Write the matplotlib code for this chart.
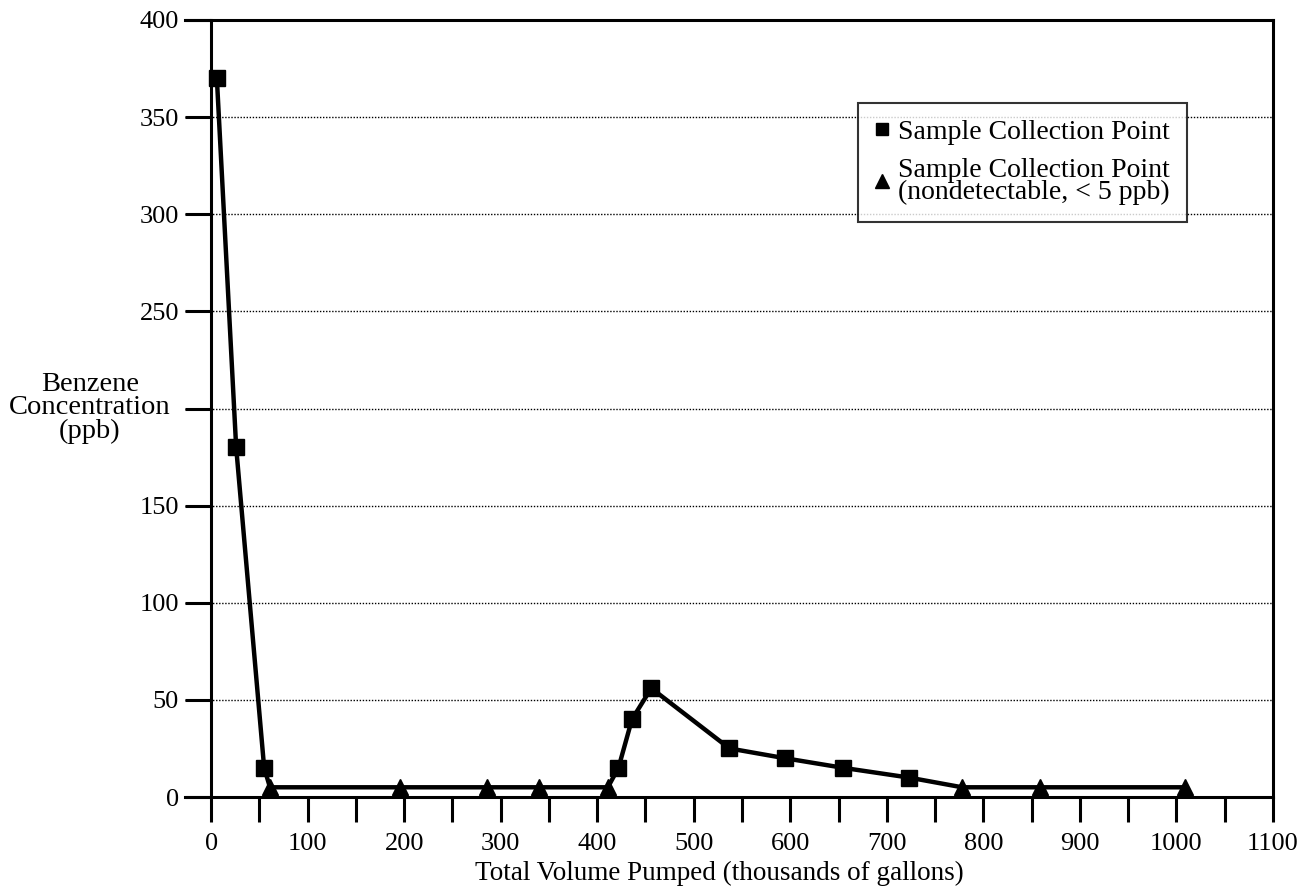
import numpy as np
import matplotlib
matplotlib.use("Agg")
from matplotlib import pyplot as plt
from matplotlib.lines import Line2D

plt.rcParams['font.family'] = ['Liberation Serif', 'DejaVu Serif']

# detected benzene samples (thousands of gallons, ppb)
det_vol = [6, 26, 55, 422, 436, 456, 537, 594, 655, 723]
det_ppb = [370, 180, 15, 15, 40, 56, 25, 20, 15, 10]

# nondetect samples plotted at the 5 ppb detection limit
nd_vol = [61, 196, 286, 340, 411, 778, 859, 1009]
nd_ppb = [5, 5, 5, 5, 5, 5, 5, 5]

x_ticks = [0, 100, 200, 300, 400, 500, 600, 700, 800, 900, 1000, 1100]
y_ticks = [0, 50, 100, 150, 200, 250, 300, 350, 400]
# 200 is left blank, the axis title sits there
y_labels = ['0', '50', '100', '150', '', '250', '300', '350', '400']

W, H = 1316, 890
fig = plt.figure(figsize=(W / 100, H / 100), dpi=100)
ax = fig.add_axes([185 / W, 1 - 797 / H, (1273 - 185) / W, (797 - 20) / H])

# one connecting line through all samples in pumping order
all_vol = np.array(det_vol + nd_vol)
all_ppb = np.array(det_ppb + nd_ppb)
order = np.argsort(all_vol)
ax.plot(all_vol[order], all_ppb[order], color='black', lw=3.2, zorder=3, clip_on=False)
ax.plot(det_vol, det_ppb, 's', color='black', ms=12, zorder=4, clip_on=False)
ax.plot(nd_vol, nd_ppb, '^', color='black', ms=12, zorder=4, clip_on=False)

ax.set_xlim(-27, 1100)
ax.set_ylim(0, 400)
ax.spines['left'].set_position(('data', 0))
for s in ax.spines.values():
    s.set_linewidth(2.2)

ax.set_xticks(x_ticks)
ax.set_xticks(np.arange(50, 1100, 100), minor=True)
ax.set_yticks(y_ticks)
ax.set_yticklabels(y_labels)
ax.tick_params(axis='x', which='both', direction='out', length=18, width=2.2,
               labelsize=19, pad=8)
ax.tick_params(axis='y', direction='out', length=19, width=2.2, labelsize=19, pad=4)

ax.grid(axis='y', linestyle=(0, (1, 1.2)), color='black', lw=1.0)
ax.set_axisbelow(True)

fig.text(719 / W, 1 - 873 / H, 'Total Volume Pumped (thousands of gallons)',
         ha='center', va='center', fontsize=19.5)
fig.text(90 / W, 1 - 408 / H, 'Benzene\nConcentration\n(ppb)',
         ha='center', va='center', multialignment='center', fontsize=20.5,
         linespacing=0.92)

handles = [
    Line2D([], [], marker='s', color='black', ls='none', ms=9),
    Line2D([], [], marker='^', color='black', ls='none', ms=10),
]
labels = ['Sample Collection Point', 'Sample Collection Point\n(nondetectable, < 5 ppb)']
leg = ax.legend(handles, labels, loc='upper left',
                bbox_to_anchor=(858 / W, 1 - 103 / H), bbox_transform=fig.transFigure,
                borderaxespad=0, fontsize=20, frameon=True, fancybox=False,
                handlelength=0.5, handletextpad=0.35, labelspacing=0.45,
                borderpad=0.6)
leg.get_frame().set_edgecolor('black')
leg.get_frame().set_linewidth(1.5)
for t in leg.get_texts():
    t.set_linespacing(0.85)

fig.savefig('out.png', dpi=100)
